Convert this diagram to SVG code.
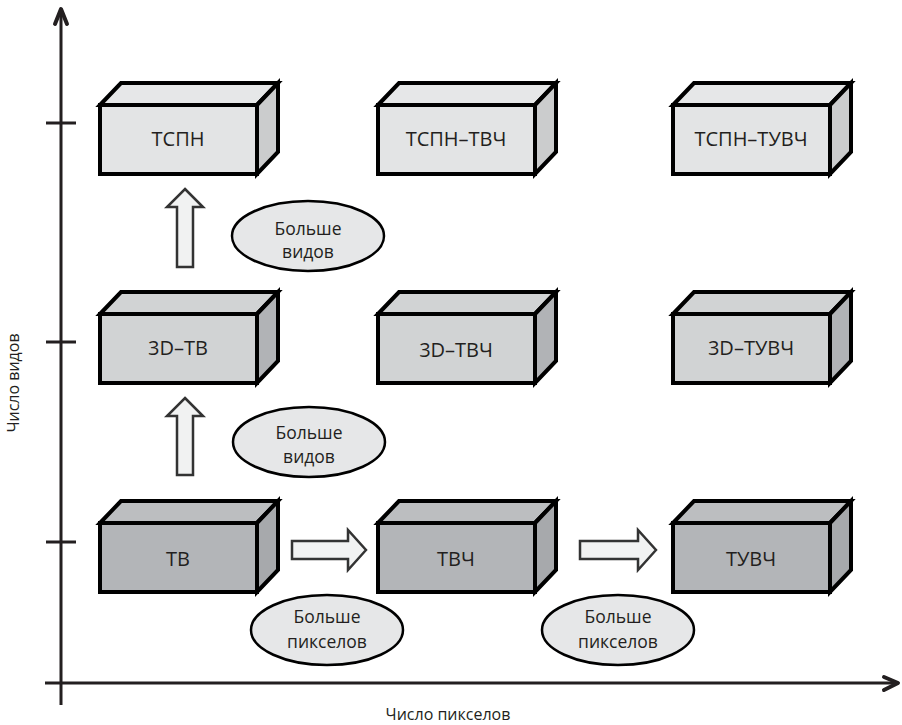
<svg xmlns="http://www.w3.org/2000/svg" width="902" height="725" viewBox="0 0 902 725">
<style>
.edge{stroke:#000;stroke-width:4;stroke-linejoin:miter}
.r1f{fill:#e3e4e5}.r1t{fill:#e6e7e8}.r1s{fill:#cbcccd}
.r2f{fill:#d1d3d4}.r2t{fill:#d1d3d4}.r2s{fill:#b1b3b6}
.r3f{fill:#b3b5b8}.r3t{fill:#bcbec0}.r3s{fill:#a7a9ac}
.lbl{font-family:"Open Sans","Noto Sans","DejaVu Sans",sans-serif;font-size:20px;fill:#231f20;text-anchor:middle}
.ell{fill:#e6e7e8;stroke:#000;stroke-width:2.5}
.etx{font-family:"Open Sans","Noto Sans","DejaVu Sans",sans-serif;font-size:17.5px;fill:#231f20;text-anchor:middle}
.barr{fill:#f1f2f2;stroke:#333;stroke-width:2.5;stroke-linejoin:miter}
.axis{stroke:#231f20;stroke-width:3;fill:none}
.ahead{stroke:#231f20;stroke-width:4;fill:none;stroke-linecap:round;stroke-linejoin:round}
.alb{font-family:"Open Sans","Noto Sans","DejaVu Sans",sans-serif;font-size:16px;fill:#231f20;text-anchor:middle}
</style>
<defs>
<g id="box1">
<polygon class="r1t edge" points="0,0 21,-22 178,-22 157,0"/>
<polygon class="r1s edge" points="157,0 178,-22 178,47 157,69"/>
<rect class="r1f edge" x="0" y="0" width="157" height="69"/>
</g>
<g id="box2">
<polygon class="r2t edge" points="0,0 21,-22 178,-22 157,0"/>
<polygon class="r2s edge" points="157,0 178,-22 178,47 157,69"/>
<rect class="r2f edge" x="0" y="0" width="157" height="69"/>
</g>
<g id="box3">
<polygon class="r3t edge" points="0,0 21,-22 178,-22 157,0"/>
<polygon class="r3s edge" points="157,0 178,-22 178,47 157,69"/>
<rect class="r3f edge" x="0" y="0" width="157" height="69"/>
</g>
</defs>

<g id="axes">
<line class="axis" x1="61" y1="9" x2="61" y2="705"/>
<polyline class="ahead" points="55,24 61,9 67,24"/>
<line class="axis" x1="45" y1="683" x2="898" y2="683"/>
<polyline class="ahead" points="884,677 898,683 884,690"/>
<line class="axis" x1="46" y1="123" x2="76" y2="123" stroke-width="2.5"/>
<line class="axis" x1="46" y1="342" x2="76" y2="342" stroke-width="2.5"/>
<line class="axis" x1="46" y1="542" x2="76" y2="542" stroke-width="2.5"/>
<text class="alb" transform="translate(19,383) rotate(-90)">Число видов</text>
<text class="alb" x="448" y="720">Число пикселов</text>
</g>

<g id="n-tspn"><use href="#box1" x="100" y="105"/><text class="lbl" x="178" y="146">ТСПН</text></g>
<g id="n-tspn-tvch"><use href="#box1" x="378" y="105"/><text class="lbl" x="456" y="146">ТСПН–ТВЧ</text></g>
<g id="n-tspn-tuvch"><use href="#box1" x="673" y="105"/><text class="lbl" x="751" y="146">ТСПН–ТУВЧ</text></g>

<g id="n-3dtv"><use href="#box2" x="100" y="314"/><text class="lbl" x="178" y="355">3D–ТВ</text></g>
<g id="n-3dtvch"><use href="#box2" x="378" y="314"/><text class="lbl" x="456" y="357">3D–ТВЧ</text></g>
<g id="n-3dtuvch"><use href="#box2" x="673" y="314"/><text class="lbl" x="751" y="355">3D–ТУВЧ</text></g>

<g id="n-tv"><use href="#box3" x="100" y="523"/><text class="lbl" x="178" y="566">ТВ</text></g>
<g id="n-tvch"><use href="#box3" x="378" y="523"/><text class="lbl" x="456" y="566">ТВЧ</text></g>
<g id="n-tuvch"><use href="#box3" x="673" y="523"/><text class="lbl" x="751" y="566">ТУВЧ</text></g>

<g id="connectors">
<polygon class="barr" points="185,189 203,207 193,207 193,267 177,267 177,207 167,207"/>
<polygon class="barr" points="185,398 203,416 193,416 193,475 177,475 177,416 167,416"/>
<polygon class="barr" points="366,550 348,570 348,559 292,559 292,541 348,541 348,530"/>
<polygon class="barr" points="656,550 638,570 638,559 580,559 580,541 638,541 638,530"/>
</g>

<g id="e-views1"><ellipse class="ell" cx="308" cy="236" rx="76" ry="35"/><text class="etx" x="308" y="235">Больше</text><text class="etx" x="308" y="258">видов</text></g>
<g id="e-views2"><ellipse class="ell" cx="309" cy="442" rx="76" ry="35"/><text class="etx" x="309" y="439">Больше</text><text class="etx" x="309" y="463">видов</text></g>
<g id="e-pix1"><ellipse class="ell" cx="327" cy="630" rx="76" ry="35"/><text class="etx" x="327" y="623">Больше</text><text class="etx" x="327" y="648">пикселов</text></g>
<g id="e-pix2"><ellipse class="ell" cx="618" cy="630" rx="76" ry="35"/><text class="etx" x="618" y="623">Больше</text><text class="etx" x="618" y="648">пикселов</text></g>
</svg>
